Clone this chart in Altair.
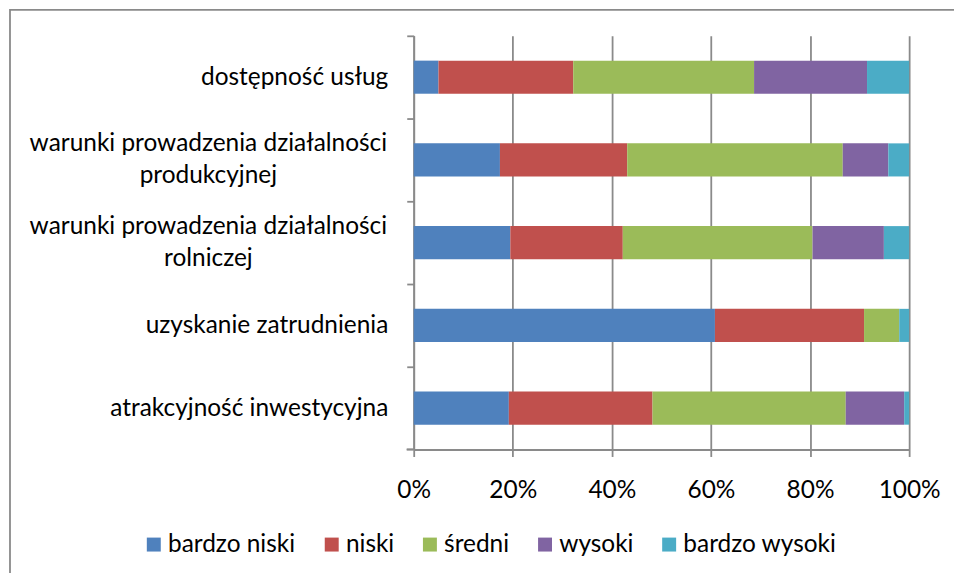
import altair as alt
import pandas as pd

categories = [
    "dostępność usług",
    "warunki prowadzenia działalności produkcyjnej",
    "warunki prowadzenia działalności rolniczej",
    "uzyskanie zatrudnienia",
    "atrakcyjność inwestycyjna",
]
multiline_labels = {
    "warunki prowadzenia działalności produkcyjnej": "warunki prowadzenia działalności|produkcyjnej",
    "warunki prowadzenia działalności rolniczej": "warunki prowadzenia działalności|rolniczej",
}
series = ["bardzo niski", "niski", "średni", "wysoki", "bardzo wysoki"]
bardzo_niski = [5.0, 17.4, 19.5, 60.8, 19.2]
niski = [27.2, 25.7, 22.7, 30.1, 29.0]
sredni = [36.5, 43.5, 38.3, 7.1, 39.0]
wysoki = [22.8, 9.2, 14.4, 0.0, 11.8]
bardzo_wysoki = [8.5, 4.2, 5.1, 2.0, 1.0]
colors = ["#4F81BD", "#C0504D", "#9BBB59", "#8064A2", "#4BACC6"]
x_ticks = [0, 0.2, 0.4, 0.6, 0.8, 1.0]

series_values = [bardzo_niski, niski, sredni, wysoki, bardzo_wysoki]
rows = []
for si, (s, vals) in enumerate(zip(series, series_values)):
    for c, v in zip(categories, vals):
        rows.append({"category": c, "series": s, "value": v, "order": si})
df = pd.DataFrame(rows)

ml_df = pd.DataFrame(
    [{"category": k, "label": v} for k, v in multiline_labels.items()]
)

FONT = "Lato"
FS = 24.5
GRAY = "#8a8a8a"
W, H = 497, 415
STEP = H / len(categories)

y_scale = alt.Scale(paddingInner=0.6, paddingOuter=0.3)

bars = alt.Chart(df).mark_bar().encode(
    x=alt.X(
        "value:Q",
        stack="normalize",
        scale=alt.Scale(domain=[0, 1], nice=False),
        axis=alt.Axis(
            format="%",
            values=x_ticks,
            title=None,
            grid=True,
            gridColor=GRAY,
            gridWidth=1.8,
            domainColor=GRAY,
            domainWidth=1.8,
            tickColor=GRAY,
            tickWidth=1.8,
            tickSize=7,
            labelPadding=22,
            labelFlush=False,
            labelFont=FONT,
            labelFontSize=FS,
            labelColor="#000000",
        ),
    ),
    y=alt.Y(
        "category:N",
        sort=categories,
        scale=y_scale,
        axis=alt.Axis(
            title=None,
            grid=False,
            domainColor=GRAY,
            domainWidth=1.8,
            tickColor=GRAY,
            tickWidth=1.8,
            tickSize=7,
            tickOffset=-STEP / 2,
            labelOffset=STEP / 2,
            labelPadding=19,
            labelFont=FONT,
            labelFontSize=FS,
            labelColor="#000000",
            labelLimit=500,
            labelExpr="indexof(datum.value, 'warunki') == 0 ? '' : datum.value",
        ),
    ),
    color=alt.Color(
        "series:N",
        sort=series,
        scale=alt.Scale(domain=series, range=colors),
        legend=alt.Legend(
            orient="none",
            legendX=-273,
            legendY=498,
            direction="horizontal",
            columns=5,
            title=None,
            symbolType="square",
            symbolSize=196,
            symbolStrokeWidth=0,
            labelOffset=2,
            columnPadding=23.5,
            labelFont=FONT,
            labelFontSize=FS,
            labelColor="#000000",
        ),
    ),
    order=alt.Order("order:Q"),
)

ml_text = alt.Chart(ml_df).mark_text(
    align="center",
    baseline="middle",
    lineBreak="|",
    font=FONT,
    fontSize=FS,
    lineHeight=32,
    dy=-16,
    color="#000000",
).encode(
    y=alt.Y("category:N", sort=categories, scale=y_scale),
    text="label:N",
    x=alt.value(-206),
)

bottom_tick = alt.Chart(ml_df).mark_rule(color=GRAY, strokeWidth=1.8).encode(
    x=alt.value(-7), x2=alt.value(0), y=alt.value(H)
)

frame = alt.Chart(alt.Data(values=[{"a": 1}])).mark_rect(
    fillOpacity=0, stroke=GRAY, strokeWidth=1.8
).encode(
    x=alt.value(-405), x2=alt.value(800), y=alt.value(-26), y2=alt.value(800)
)

chart = alt.layer(frame, bars, ml_text, bottom_tick).properties(
    width=W,
    height=H,
    autosize=alt.AutoSizeParams(type="none"),
    padding={"left": 407, "top": 27, "right": 45, "bottom": 123},
).configure_view(strokeWidth=0)

chart.save("out.html", embed_options={"renderer": "svg", "actions": False})
